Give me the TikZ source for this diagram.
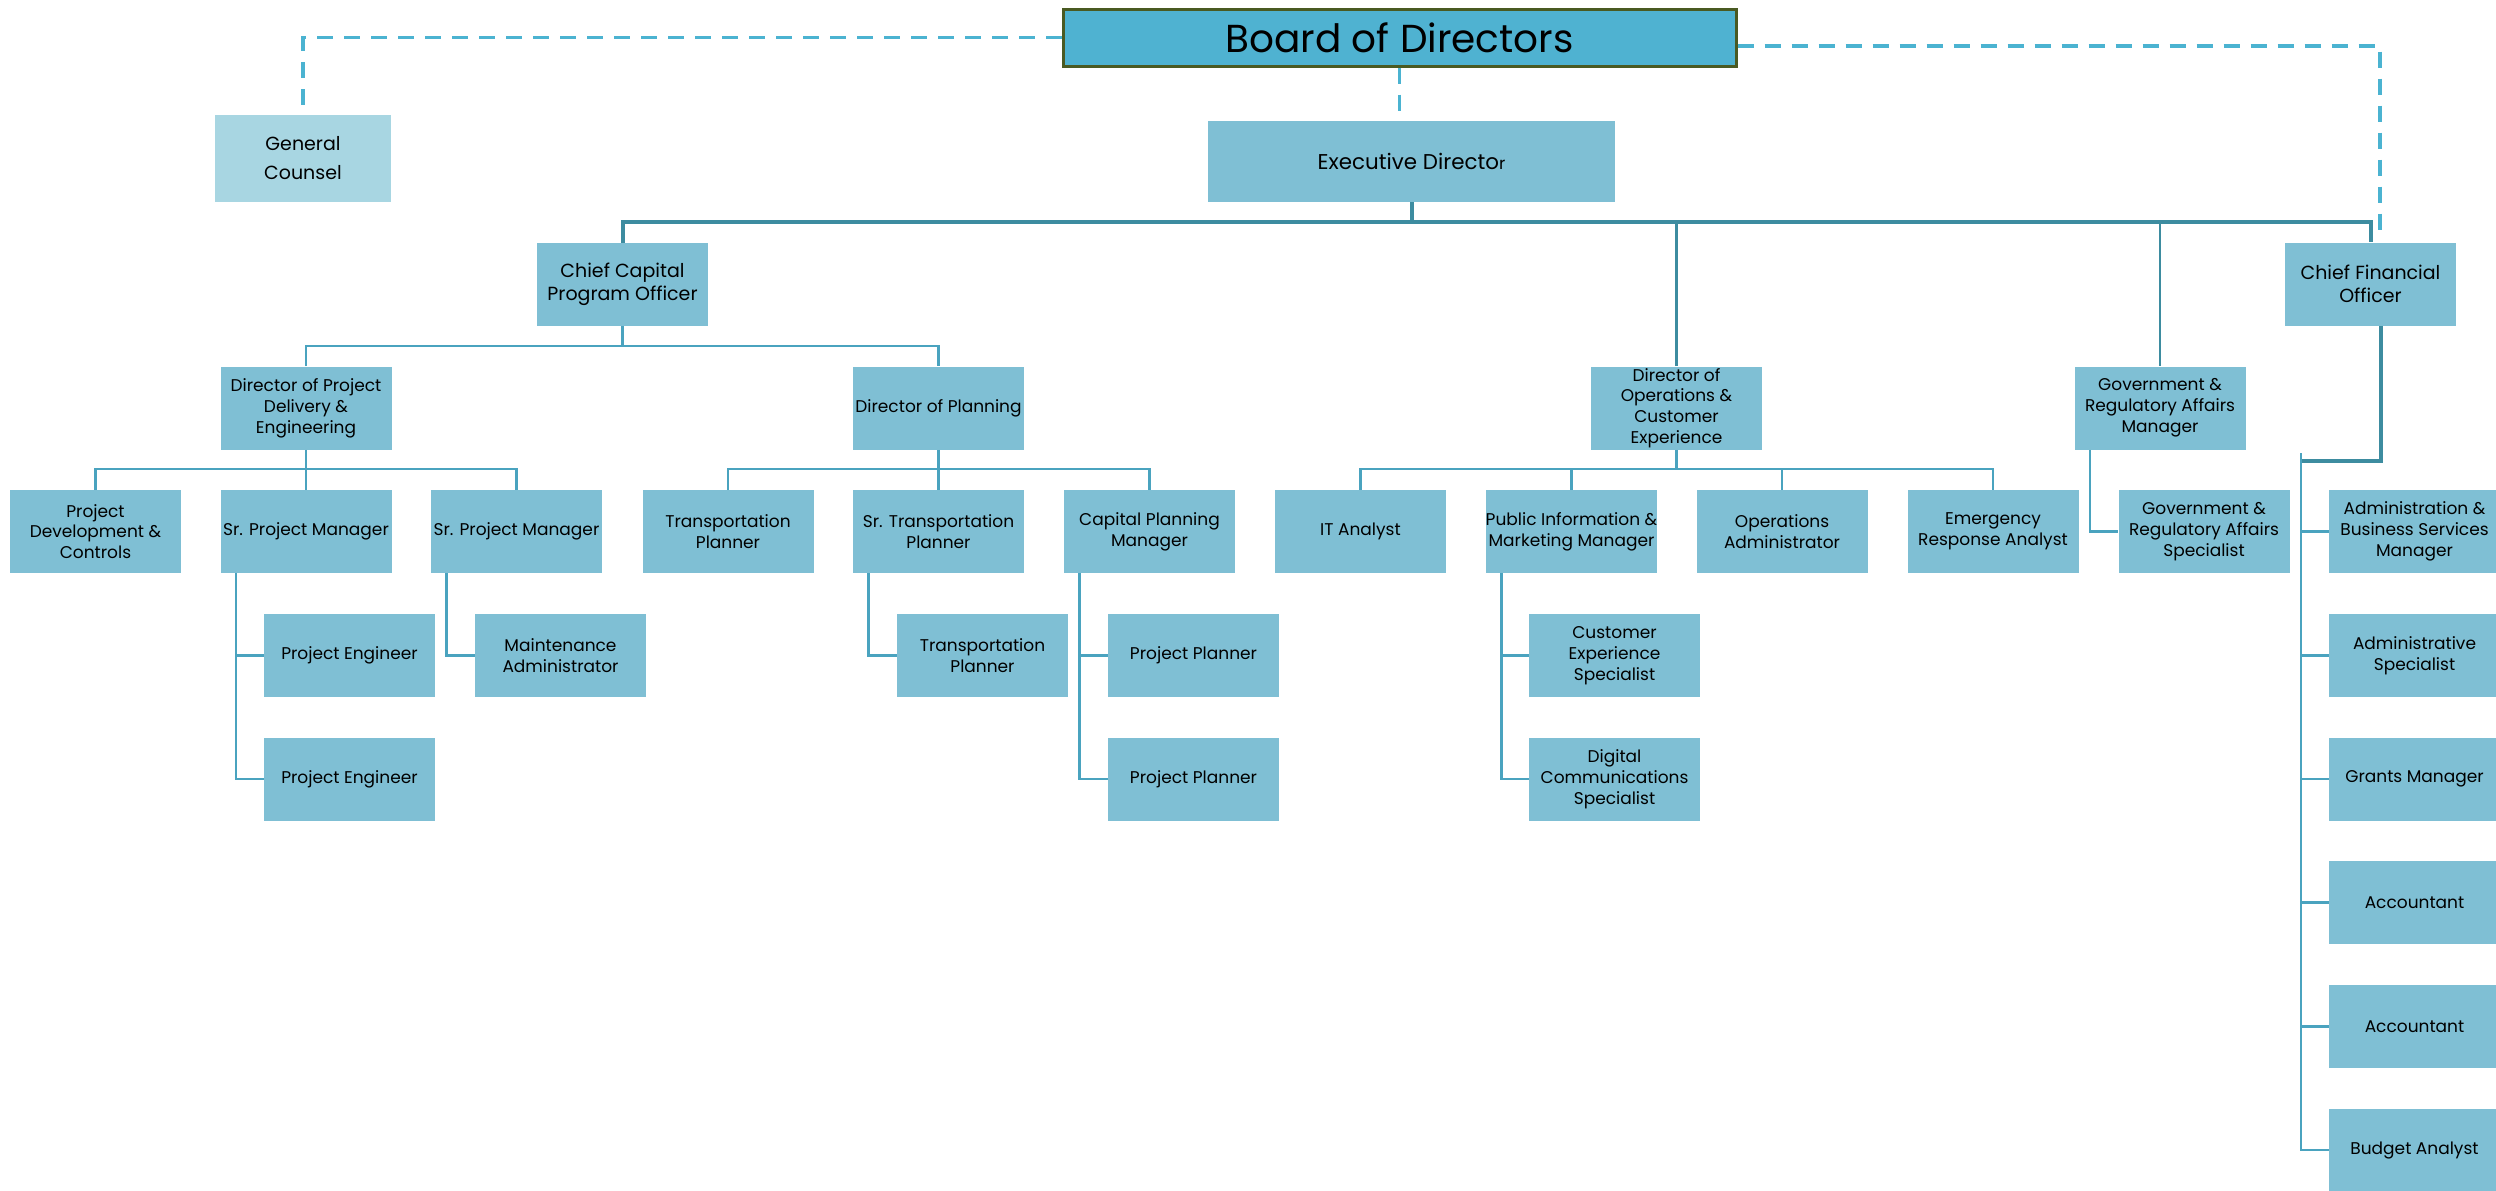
\documentclass[tikz,border=0pt]{standalone}
\usepackage{fontspec}
\setmainfont{Poppins}
\usepackage{tikz}

\definecolor{boxblue}{RGB}{127,191,212}
\definecolor{gcblue}{RGB}{168,214,226}
\definecolor{boardblue}{RGB}{79,178,209}
\definecolor{boardedge}{RGB}{74,90,34}
\definecolor{linedark}{RGB}{61,140,160}
\definecolor{linelight}{RGB}{74,163,191}
\definecolor{dashblue}{RGB}{75,179,209}

\tikzset{
	box/.style={fill=boxblue, minimum width=85.5pt, minimum height=41.5pt, inner sep=0pt, align=center, font=\fontsize{8.5}{10.4}\selectfont},
	bigbox/.style={box, font=\fontsize{9.5}{11.5}\selectfont},
	wire/.style={draw=linelight, line width=1.3pt},
	mainwire/.style={draw=linedark, line width=2pt},
	dashlink/.style={draw=dashblue, line width=1.8pt, dash pattern=on 8pt off 5.5pt}
}

\begin{document}
\begin{tikzpicture}[x=0.5pt, y=-0.5pt]
			\useasboundingbox (0,0) rectangle (2496,1190);

			\node (board) at (1399.5,37.5)[draw=boardedge, line width=1.5pt, fill=boardblue, minimum width=336.5pt, minimum height=28.5pt, inner sep=0pt, font=\fontsize{19.5}{22}\selectfont]{\raisebox{-1.5pt}{Board of Directors}};
			\node (gc) at (303,158.5)[bigbox, fill=gcblue, minimum width=88pt, minimum height=43.5pt, font=\fontsize{9.5}{14.5}\selectfont]{General\\Counsel};
			\node (exec) at (1411.5,161.5)[bigbox, minimum width=203.5pt, minimum height=40.5pt, font=\fontsize{10.7}{12}\selectfont]{Executive Directo{\fontsize{8.4}{9}\selectfont r}};
			\node (ccpo) at (622.5,284.5)[bigbox]{Chief Capital\\Program Officer};
			\node (cfo) at (2370.5,284)[bigbox]{Chief Financial\\Officer};

			\node (dpd) at (306,408)[box]{Director of Project\\Delivery \&\\Engineering};
			\node (dop) at (938.5,408)[box]{Director of Planning};
			\node (doce) at (1676.5,408)[box]{Director of\\Operations \&\\Customer\\Experience};
			\node (gov) at (2160,408)[box]{Government \&\\Regulatory Affairs\\Manager};

			\node (pdc) at (95.5,531.5)[box]{Project\\Development \&\\Controls};
			\node (spm1) at (306,531.5)[box]{Sr. Project Manager};
			\node (spm2) at (516.5,531.5)[box]{Sr. Project Manager};
			\node (tp) at (728,531.5)[box]{Transportation\\Planner};
			\node (stp) at (938.5,531.5)[box]{Sr. Transportation\\Planner};
			\node (cpm) at (1149.5,531.5)[box]{Capital Planning\\Manager};
			\node (it) at (1360.5,531.5)[box]{IT Analyst};
			\node (pimm) at (1571.5,531.5)[box]{Public Information \&\\Marketing Manager};
			\node (oa) at (1782,531.5)[box]{Operations\\Administrator};
			\node (era) at (1993,531.5)[box]{Emergency\\Response Analyst};
			\node (gras) at (2204,531.5)[box]{Government \&\\Regulatory Affairs\\Specialist};
			\node (absm) at (2414.5,531.5)[box]{Administration \&\\Business Services\\Manager};

			\node (pe1) at (349.5,655.5)[box]{Project Engineer};
			\node (maint) at (560.5,655.5)[box]{Maintenance\\Administrator};
			\node (tp2) at (982.5,655.5)[box]{Transportation\\Planner};
			\node (pp1) at (1193.5,655.5)[box]{Project Planner};
			\node (ces) at (1614.5,655.5)[box]{Customer\\Experience\\Specialist};
			\node (adms) at (2414.5,655.5)[box]{Administrative\\Specialist};

			\node (pe2) at (349.5,779)[box]{Project Engineer};
			\node (pp2) at (1193.5,779)[box]{Project Planner};
			\node (dcs) at (1614.5,779)[box]{Digital\\Communications\\Specialist};
			\node (gm) at (2414.5,779)[box]{Grants Manager};
			\node (acc1) at (2414.5,902.5)[box]{Accountant};
			\node (acc2) at (2414.5,1026.5)[box]{Accountant};
			\node (ba) at (2414.5,1150)[box]{Budget Analyst};

			\draw[dashlink] (board.west) -| ([yshift=5pt]gc.north);
			\draw[dashlink] ([yshift=-4.25pt]board.east) -| ([xshift=4.75pt, yshift=6pt]cfo.north);
			\draw[dashlink] (board.south) -- (board.south |- exec.north);

			\coordinate (bar) at (1411,222);
			\draw[mainwire] (exec.south) -- (exec.south |- bar);
			\draw[mainwire] (ccpo.north) -- (ccpo.north |- bar) -- (cfo.north |- bar) -- (cfo.north);
			\draw[wire, draw=linedark] (doce.north |- bar) -- (doce.north);
			\draw[wire, draw=linedark] (gov.north |- bar) -- (gov.north);

			\coordinate (ccpobar) at (622,346);
			\draw[wire] (ccpo.south) -- (ccpo.south |- ccpobar);
			\draw[wire] (dpd.north) -- (dpd.north |- ccpobar) -- (dop.north |- ccpobar) -- (dop.north);

			\coordinate (rowbar) at (0,469);
			\draw[wire] (dpd.south) -- (dpd.south |- rowbar);
			\draw[wire] (pdc.north) -- (pdc.north |- rowbar) -- (spm2.north |- rowbar) -- (spm2.north);
			\draw[wire] (spm1.north) -- (spm1.north |- rowbar);
			\draw[wire] (dop.south) -- (dop.south |- rowbar);
			\draw[wire] (tp.north) -- (tp.north |- rowbar) -- (cpm.north |- rowbar) -- (cpm.north);
			\draw[wire] (stp.north) -- (stp.north |- rowbar);
			\draw[wire] (doce.south) -- (doce.south |- rowbar);
			\draw[wire] (it.north) -- (it.north |- rowbar) -- (era.north |- rowbar) -- (era.north);
			\draw[wire] (pimm.north) -- (pimm.north |- rowbar);
			\draw[wire] (oa.north) -- (oa.north |- rowbar);

			\draw[wire] ([xshift=8pt]spm1.south west) |- (pe1.west);
			\draw[wire] ([xshift=8pt]spm1.south west) |- (pe2.west);
			\draw[wire] ([xshift=8pt]spm2.south west) |- (maint.west);
			\draw[wire] ([xshift=8pt]stp.south west) |- (tp2.west);
			\draw[wire] ([xshift=8pt]cpm.south west) |- (pp1.west);
			\draw[wire] ([xshift=8pt]cpm.south west) |- (pp2.west);
			\draw[wire] ([xshift=8pt]pimm.south west) |- (ces.west);
			\draw[wire] ([xshift=8pt]pimm.south west) |- (dcs.west);
			\draw[wire] ([xshift=8pt]gov.south west) |- (gras.west);

			\coordinate (spine) at (2301,461);
			\coordinate (spinetop) at (2301,453);
			\draw[mainwire] ([xshift=5pt]cfo.south) |- (spine);
			\draw[wire] (spinetop) |- (absm.west);
			\draw[wire] (spinetop) |- (adms.west);
			\draw[wire] (spinetop) |- (gm.west);
			\draw[wire] (spinetop) |- (acc1.west);
			\draw[wire] (spinetop) |- (acc2.west);
			\draw[wire] (spinetop) |- (ba.west);
		\end{tikzpicture}
\end{document}
